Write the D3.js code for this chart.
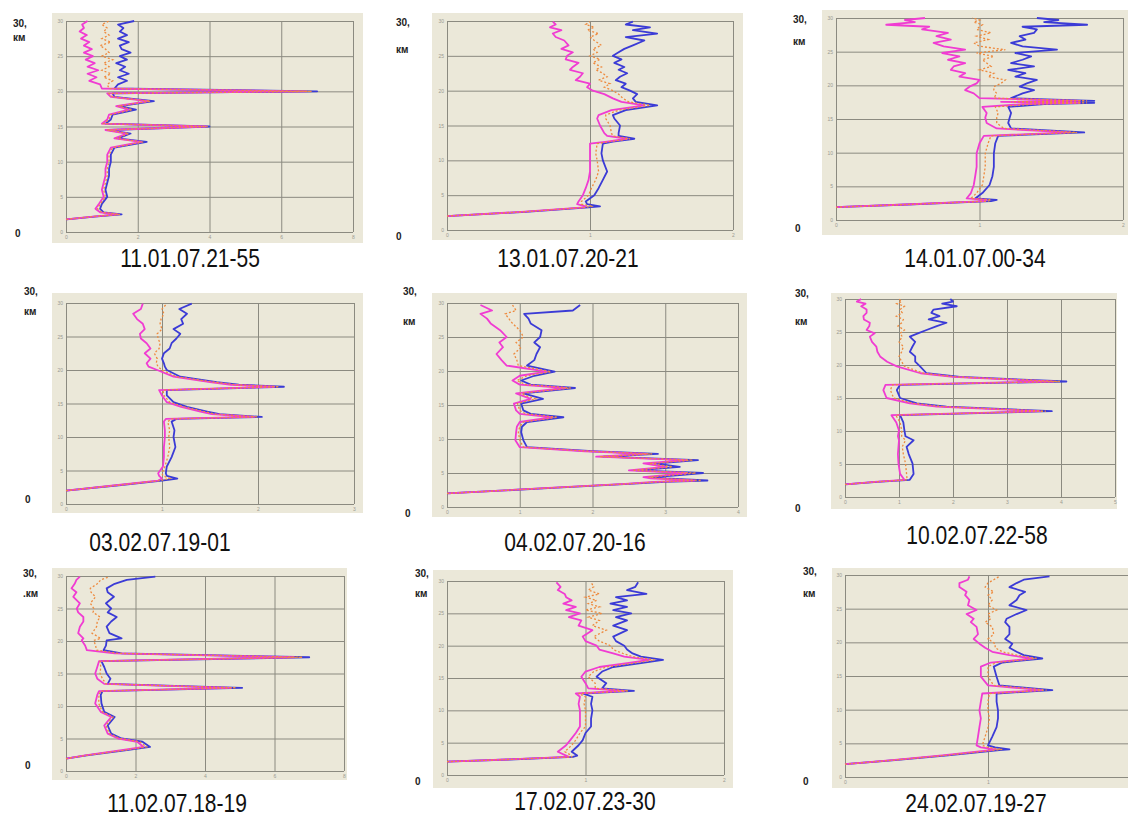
<!DOCTYPE html>
<meta charset="utf-8">
<script src="https://d3js.org/d3.v7.min.js"></script>
<style>
  body { margin: 0; background: #fff; }
  svg { display: block; }
</style>
<div id="chart"></div>
<script>

// panel titles (date.time of each lidar profile)
var titles = ["11.01.07.21-55", "13.01.07.20-21", "14.01.07.00-34",
              "03.02.07.19-01", "04.02.07.20-16", "10.02.07.22-58",
              "11.02.07.18-19", "17.02.07.23-30", "24.02.07.19-27"];
var xMax  = [8, 2, 2, 3, 4, 5, 8, 2, 2];
var xStep = [2, 1, 1, 1, 1, 1, 2, 1, 1];
var altTicks = [0, 5, 10, 15, 20, 25, 30];

// panel 1
var alt1 = [1.8,2.2,2.5,2.8,3.3, 4,5,6,7,8, 9,10,11,12,12.8, 13.3,14,14.5,15,15.4, 16,16.7,17.4,17.9,18.6, 19.2,19.7,20,20.4,21, 21.5,22,22.5,23,23.5, 24,24.5,25,25.5,26, 26.5,27,27.5,28,28.5, 29,29.5,30];
var blue1 = [0.02,0.8,1.55,1.05,0.95, 1.0,1.15,1.1,1.15,1.2, 1.2,1.25,1.25,1.35,2.25, 1.45,1.8,1.2,4.0,1.1, 1.25,1.3,1.95,1.5,2.45, 1.35,1.3,7.0,1.35,1.45, 1.7,1.45,1.75,1.5,1.65, 1.4,1.7,1.5,1.8,1.55, 1.5,1.75,1.45,1.7,1.5, 1.6,1.45,1.9];
var pink1 = [0.0,0.75,1.45,0.95,0.82, 0.92,1.05,1.0,1.05,1.1, 1.1,1.15,1.15,1.25,2.1, 1.35,1.7,1.1,3.9,1.0, 1.15,1.2,1.75,1.4,2.3, 1.25,1.15,6.7,1.0,0.95, 0.65,0.85,0.6,0.9,0.6, 0.8,0.55,0.75,0.5,0.72, 0.5,0.65,0.42,0.58,0.38, 0.5,0.45,0.6];
var orange1 = [0.01,0.78,1.5,1.0,0.88, 0.96,1.1,1.05,1.1,1.15, 1.15,1.2,1.2,1.3,2.15, 1.4,1.75,1.15,3.95,1.05, 1.2,1.25,1.85,1.45,2.35, 1.3,1.2,6.85,1.2,1.15, 1.3,1.05,1.25,1.0,1.2, 1.05,1.3,1.0,1.2,1.1, 0.95,1.25,1.0,1.2,1.05, 1.15,1.0,1.2];

// panel 2
var alt2 = [2.0,2.6,3.25,3.4,3.7, 4.1,5,6,7.2,8.4, 10,11,12.4,12.7,13.1, 13.5,13.9,15,16,16.5, 17.2,17.9,18.4,18.9,19.5, 20,20.5,21,21.5,22, 22.5,23,23.4,24,24.5, 25,25.5,26,26.5,27.2, 27.7,28.2,28.7,29.1,29.5, 29.9];
var blue2 = [0.0,0.55,0.99,1.07,0.98, 0.97,1.03,1.06,1.09,1.12, 1.09,1.08,1.09,1.16,1.31, 1.2,1.2,1.21,1.17,1.16, 1.25,1.47,1.32,1.3,1.33, 1.28,1.22,1.25,1.18,1.21, 1.26,1.2,1.24,1.17,1.22, 1.16,1.2,1.24,1.3,1.38, 1.25,1.47,1.3,1.42,1.25, 1.3];
var pink2 = [0.0,0.52,0.96,0.97,0.91, 0.92,0.95,0.97,0.99,1.0, 1.0,1.0,1.0,1.12,1.26, 1.12,1.1,1.07,1.05,1.06, 1.15,1.38,1.22,1.16,1.1, 1.02,0.98,1.0,0.9,0.93, 0.95,0.86,0.88,0.92,0.83, 0.84,0.88,0.8,0.85,0.82, 0.76,0.74,0.8,0.72,0.76, 0.74];
var orange2 = [0.0,0.53,0.97,1.02,0.94, 0.94,0.99,1.01,1.04,1.06, 1.05,1.04,1.05,1.14,1.28, 1.16,1.15,1.14,1.11,1.11, 1.2,1.42,1.27,1.23,1.2, 1.16,1.1,1.14,1.06,1.12, 1.09,1.04,1.08,1.02,1.07, 1.0,1.05,1.02,1.08,1.03, 1.0,1.06,0.98,1.03,0.97, 1.0];

// panel 3
var alt3 = [1.9,2.3,2.8,3.0,3.2, 4,5.2,6.5,7.9,9.9, 11.4,12.5,13.0,13.6,14.4, 15.2,15.9,16.8,17.2,17.4, 17.55,17.7,18.1,18.8,19.3, 19.8,20.3,20.8,21.3,21.8, 22.3,22.8,23.3,23.8,24.3, 24.8,25.3,25.8,26.3,26.8, 27.3,27.8,28.3,28.7,29.0, 29.4,29.7,30];
var blue3 = [0.0,0.5,1.08,1.12,0.97, 1.02,1.07,1.09,1.1,1.1, 1.11,1.13,1.73,1.22,1.2, 1.21,1.22,1.2,1.45,1.8, 1.3,1.8,1.22,1.3,1.38, 1.28,1.33,1.4,1.25,1.32, 1.2,1.38,1.22,1.3,1.36, 1.25,1.54,1.3,1.22,1.32, 1.28,1.38,1.4,1.3,1.75, 1.45,1.55,1.4];
var pink3 = [0.0,0.48,1.04,1.05,0.91, 0.94,0.96,0.97,0.98,0.98, 1.0,1.03,1.63,1.12,1.05, 1.04,1.05,1.02,1.3,1.7, 1.15,1.7,1.0,0.96,0.9, 0.93,0.98,1.0,0.86,0.9, 0.8,0.82,0.9,0.78,0.86, 0.74,0.9,0.75,0.68,0.8, 0.7,0.78,0.6,0.65,0.35, 0.55,0.48,0.62];
var orange3 = [0.0,0.49,1.06,1.08,0.94, 0.98,1.02,1.03,1.04,1.04, 1.06,1.08,1.68,1.17,1.12, 1.12,1.13,1.11,1.37,1.75, 1.22,1.75,1.1,1.12,1.1, 1.1,1.15,1.18,1.06,1.1, 1.0,1.08,1.05,1.02,1.1, 0.98,1.18,1.0,0.96,1.06, 0.98,1.08,0.98,1.0,1.02, 0.96,1.0,0.95];

// panel 4
var alt4 = [2.0,2.8,3.5,3.8,4.2, 4.6,5.6,7,8.5,10, 11,12.3,12.7,13.0,13.4, 13.8,14.5,15.2,16.2,17.0, 17.5,17.8,18.2,19.0,20, 20.5,21,21.7,22.5,23.2, 24,24.7,25.4,26.1,26.9, 27.6,28.4,29.1,29.9];
var blue4 = [0.0,0.55,1.0,1.16,1.05, 1.04,1.05,1.1,1.14,1.12, 1.13,1.1,1.15,2.04,1.6, 1.47,1.26,1.12,1.05,1.05, 2.27,1.8,1.57,1.19,1.05, 1.03,1.02,1.0,1.02,1.08, 1.1,1.15,1.19,1.12,1.22, 1.2,1.26,1.18,1.31];
var pink4 = [0.0,0.52,0.96,1.0,0.97, 0.96,1.01,1.02,1.02,1.03, 1.03,1.02,1.04,1.96,1.52, 1.4,1.2,1.05,1.0,0.97, 2.17,1.72,1.5,1.12,0.95, 0.86,0.84,0.88,0.82,0.88, 0.84,0.78,0.77,0.82,0.8, 0.74,0.7,0.78,0.8];
var orange4 = [0.0,0.54,0.98,1.08,1.01, 1.0,1.03,1.06,1.08,1.07, 1.08,1.06,1.1,2.0,1.56, 1.44,1.23,1.08,1.02,1.01, 2.22,1.76,1.53,1.15,1.0, 0.96,0.94,0.95,0.92,0.97, 0.98,0.96,0.95,1.0,0.98, 0.99,1.02,1.0,1.05];

// panel 5
var alt5 = [2.0,2.8,3.4,3.7,3.9, 4.2,4.4,4.7,5.0,5.4, 5.9,6.4,6.9,7.4,7.8, 8.2,8.8,9.8,11,11.8, 12.5,13.2,13.7,14.2,15.2, 15.9,16.7,17.5,18.0,18.6, 19.3,19.9,20.8,21.6,22.5, 23.5,24.2,25,26,27, 27.7,28.4,28.9,29.7];
var blue5 = [0.0,1.45,2.5,3.0,3.58, 3.0,2.84,3.2,3.52,2.6, 3.2,2.85,3.45,2.15,2.9, 2.0,1.1,1.05,1.02,1.03, 1.1,1.6,1.15,1.05,1.02, 1.32,1.05,1.76,1.15,1.02, 1.2,1.48,1.1,1.2,1.23, 1.28,1.2,1.28,1.3,1.15, 1.12,1.06,1.73,1.83];
var pink5 = [0.0,1.4,2.45,2.85,3.4, 2.8,2.7,3.0,3.3,2.5, 3.0,2.7,3.3,2.05,2.75, 1.9,1.0,0.94,0.95,0.96, 1.0,1.45,1.0,0.95,0.92, 1.15,0.95,1.63,1.0,0.9, 1.0,1.37,0.82,0.75,0.68, 0.77,0.72,0.82,0.73,0.6, 0.55,0.46,0.62,0.46];
var orange5 = [0.0,1.42,2.48,2.92,3.5, 2.9,2.77,3.1,3.42,2.55, 3.1,2.78,3.38,2.1,2.82, 1.95,1.05,1.0,0.98,1.0, 1.05,1.52,1.08,1.0,0.97, 1.22,1.0,1.7,1.08,0.96, 1.1,1.43,0.98,0.96,0.92, 1.02,0.95,1.05,1.0,0.9, 0.85,0.8,0.95,0.9];

// panel 6
var alt6 = [1.9,2.3,2.6,3.5,5.1, 6.5,7.6,8.6,9.2,10.1, 11.3,12.4,13.0,13.7,14.2, 15.0,16.2,17.0,17.5,18.2, 18.75,19.8,20.5,21.3,22.0, 22.8,23.5,24.3,24.8,25.3, 25.9,26.4,26.9,27.4,27.9, 28.4,28.9,29.3,29.6,30];
var blue6 = [0.0,0.6,1.2,1.27,1.25, 1.18,1.14,1.27,1.12,1.1, 1.08,1.02,3.83,1.88,1.33, 1.02,0.96,1.02,4.1,2.13, 1.51,1.39,1.3,1.3,1.2, 1.25,1.3,1.2,1.35,1.51, 1.7,1.88,1.55,1.75,1.6, 1.64,2.07,1.8,2.0,1.95];
var pink6 = [0.0,0.55,1.1,1.02,0.99, 0.98,0.99,1.0,0.98,1.0, 0.95,0.86,3.61,1.7,1.2, 0.77,0.71,0.75,3.86,2.0, 1.4,0.96,0.78,0.65,0.6, 0.58,0.5,0.46,0.55,0.4, 0.45,0.46,0.35,0.34,0.4, 0.4,0.3,0.38,0.22,0.3];
var orange6 = [0.0,0.58,1.15,1.14,1.12, 1.08,1.06,1.12,1.05,1.05, 1.02,0.94,3.72,1.8,1.26, 0.9,0.84,0.88,3.98,2.06, 1.45,1.1,1.05,1.0,1.05, 1.08,1.0,1.06,1.02,1.1, 0.98,1.05,1.08,0.95,1.06, 1.02,1.1,0.96,1.05,1.0];

// panel 7
var alt7 = [1.9,2.4,3.2,3.7,4.5, 5.0,5.75,7.0,8.3,9.1, 10.4,11.7,12.3,12.8,13.4, 14.2,15.0,16.0,16.9,17.5, 18.1,18.6,19.3,20.1,20.4, 21.2,22.2,23.0,23.7,24.4, 25.0,25.8,26.8,27.5,28.1, 28.8,29.4,29.9];
var blue7 = [0.0,0.6,1.75,2.42,2.2, 1.6,1.3,1.2,1.4,1.1, 1.02,1.0,1.05,5.07,1.2, 1.28,1.17,1.1,1.02,7.0, 1.6,1.08,1.15,1.17,1.6, 1.25,1.17,1.3,1.46,1.2, 1.3,1.15,1.38,1.2,1.17, 1.4,1.75,2.57];
var pink7 = [0.0,0.55,1.6,2.23,2.05, 1.5,1.2,1.1,1.3,1.0, 0.84,0.9,0.95,4.75,1.1, 0.9,0.84,0.9,0.95,6.56, 1.4,0.6,0.55,0.45,0.5, 0.35,0.4,0.5,0.5,0.35, 0.31,0.4,0.21,0.3,0.16, 0.25,0.3,0.4];
var orange7 = [0.0,0.58,1.68,2.32,2.12, 1.55,1.25,1.15,1.35,1.05, 0.94,0.95,1.0,4.9,1.15, 1.05,0.98,1.0,0.98,6.8, 1.5,0.88,0.85,0.8,1.0, 0.75,0.88,0.9,0.98,0.78, 0.8,0.7,0.85,0.72,0.7, 0.9,1.0,1.25];

// panel 8
var alt8 = [2.06,2.4,2.8,3.0,3.6, 4.6,5.4,6.5,7.5,8.7, 10,11,12.1,12.6,13.0, 13.4,14.2,15.2,16.0,16.7, 17.3,17.8,18.3,18.8,19.4, 20,20.7,21.4,22.4,23.1, 23.9,24.4,25,25.5,26, 26.5,27,27.5,28,28.6, 29.1,29.8];
var blue8 = [0.0,0.45,0.91,0.94,0.9, 0.95,0.98,1.0,1.04,1.04, 1.05,1.04,1.05,0.98,1.35, 1.12,1.15,1.08,1.12,1.2, 1.4,1.56,1.4,1.34,1.3, 1.28,1.22,1.2,1.3,1.2, 1.3,1.22,1.33,1.2,1.3, 1.18,1.3,1.22,1.44,1.3, 1.36,1.38];
var pink8 = [0.0,0.43,0.88,0.86,0.8, 0.86,0.89,0.93,0.96,0.96, 0.96,0.95,0.96,0.93,1.28, 1.02,1.0,0.97,1.0,1.1, 1.3,1.46,1.28,1.2,1.1, 1.08,1.0,0.98,1.05,0.95, 0.97,0.88,0.96,0.86,0.93, 0.84,0.9,0.86,0.85,0.8, 0.82,0.79];
var orange8 = [0.0,0.44,0.9,0.9,0.85, 0.9,0.93,0.96,1.0,1.0, 1.0,0.99,1.0,0.95,1.31, 1.07,1.07,1.02,1.06,1.15, 1.35,1.5,1.34,1.27,1.2, 1.18,1.1,1.06,1.15,1.05, 1.1,1.02,1.12,1.0,1.1, 1.02,1.08,1.0,1.1,1.02, 1.06,1.04];

// panel 9
var alt9 = [1.9,2.5,3.2,4.0,4.1, 4.4,4.7,6,7.4,8.7, 9.9,11.2,12.4,12.9,13.6, 14.9,16.4,17.0,17.6,18.1, 18.6,19.2,19.8,20.5,21.2, 22.3,23.0,23.5,24.2,24.8, 25.5,26.3,27.0,27.5,28.2, 28.8,29.3,29.8];
var blue9 = [0.0,0.35,0.72,1.08,1.15, 1.05,1.0,1.03,1.06,1.07, 1.07,1.06,1.06,1.45,1.08, 1.06,1.04,1.1,1.38,1.25, 1.2,1.15,1.17,1.12,1.15, 1.15,1.12,1.13,1.2,1.27, 1.15,1.2,1.22,1.26,1.15, 1.2,1.25,1.43];
var pink9 = [0.0,0.33,0.68,1.02,1.05, 0.95,0.92,0.93,0.94,0.95, 0.94,0.95,0.96,1.38,1.0, 0.95,0.95,1.02,1.31,1.15, 1.03,0.98,0.94,0.9,0.93, 0.92,0.88,0.9,0.85,0.92, 0.86,0.87,0.84,0.85,0.8, 0.8,0.86,0.87];
var orange9 = [0.0,0.34,0.7,1.05,1.1, 1.0,0.96,0.98,1.0,1.01, 1.0,1.0,1.01,1.41,1.04, 1.0,1.0,1.06,1.34,1.2, 1.1,1.05,1.05,1.0,1.04, 1.03,0.98,1.02,1.0,1.06, 1.0,1.03,1.0,1.04,0.98, 1.0,1.04,1.08];

var alts    = [alt1, alt2, alt3, alt4, alt5, alt6, alt7, alt8, alt9];
var blues   = [blue1, blue2, blue3, blue4, blue5, blue6, blue7, blue8, blue9];
var pinks   = [pink1, pink2, pink3, pink4, pink5, pink6, pink7, pink8, pink9];
var oranges = [orange1, orange2, orange3, orange4, orange5, orange6, orange7, orange8, orange9];

// where each little chart sits on the page
// bg = beige box, plot = grid area, title = [centre x, baseline], lab = [x, "30," y, "км" y, "0" x, "0" y]
var layout = [
  {bg: [52, 13, 363, 243],  plot: [66, 21, 353, 232],   title: [190, 267], lab: [13, 27, 41, 15, 237], km: "км"},
  {bg: [432, 13, 743, 240], plot: [447, 21, 733, 230],  title: [568, 267], lab: [396, 26, 53, 396, 240], km: "км"},
  {bg: [822, 10, 1128, 235], plot: [836, 18, 1123, 220], title: [975, 267], lab: [793, 23, 45, 795, 232], km: "км"},
  {bg: [52, 293, 363, 513], plot: [66, 303, 354, 504],  title: [160, 551], lab: [24, 295, 315, 25, 503], km: "км"},
  {bg: [432, 293, 747, 517], plot: [447, 303, 738, 507], title: [575, 551], lab: [403, 295, 325, 405, 517], km: "км"},
  {bg: [831, 293, 1117, 509], plot: [845, 299, 1115, 497], title: [977, 544], lab: [795, 297, 325, 795, 512], km: "км"},
  {bg: [52, 568, 347, 780], plot: [66, 576, 344, 771],  title: [177, 812], lab: [23, 577, 597, 25, 769], km: ".км"},
  {bg: [433, 570, 733, 788], plot: [447, 581, 724, 775], title: [585, 810], lab: [415, 577, 597, 415, 785], km: "км"},
  {bg: [832, 568, 1128, 788], plot: [845, 575, 1131, 777], title: [976, 812], lab: [803, 575, 597, 803, 785], km: "км"}
];

var W = 1128, H = 819;
var svg = d3.select("#chart").append("svg")
  .attr("width", W)
  .attr("height", H)
  .style("font-family", "'Liberation Sans', Arial, sans-serif");

svg.append("rect").attr("width", W).attr("height", H).attr("fill", "#ffffff");

var colBlue = "#3b3bd6", colPink = "#f03cd2", colOrange = "#ee8a3e", colGrid = "#8b8a80";

layout.forEach(function(L, i) {
  var g = svg.append("g");
  var pl = L.plot[0], pt = L.plot[1], pr = L.plot[2], pb = L.plot[3];

  g.append("rect")
    .attr("x", L.bg[0]).attr("y", L.bg[1])
    .attr("width", L.bg[2] - L.bg[0]).attr("height", L.bg[3] - L.bg[1])
    .attr("fill", "#ebe8d9");

  var x = d3.scaleLinear().domain([0, xMax[i]]).range([pl, pr]);
  var y = d3.scaleLinear().domain([0, 30]).range([pb, pt]);
  var xt = d3.range(0, xMax[i] + 1e-9, xStep[i]);

  // vertical grid
  g.append("g")
    .attr("transform", "translate(0," + pb + ")")
    .call(d3.axisBottom(x).tickValues(xt).tickSize(-(pb - pt)).tickPadding(3).tickFormat(d3.format("d")))
    .call(function(a) {
      a.select(".domain").remove();
      a.selectAll("line").attr("stroke", colGrid).attr("stroke-width", 1);
      a.selectAll("text").attr("font-size", 5).attr("fill", "#9a9a92").attr("font-family", null);
      // labels that would fall past the right edge of the page are not drawn
      a.selectAll(".tick").filter(function(d) { return x(d) > W - 4; }).select("text").remove();
    });

  // horizontal grid
  g.append("g")
    .attr("transform", "translate(" + pl + ",0)")
    .call(d3.axisLeft(y).tickValues(altTicks).tickSize(-(pr - pl)).tickPadding(3))
    .call(function(a) {
      a.select(".domain").remove();
      a.selectAll("line").attr("stroke", colGrid).attr("stroke-width", 1);
      a.selectAll("text").attr("font-size", 5).attr("fill", "#9a9a92").attr("font-family", null);
    });

  var line = d3.line()
    .x(function(d) { return x(d[0]); })
    .y(function(d) { return y(d[1]); });

  function pts(vals) { return vals.map(function(v, k) { return [v, alts[i][k]]; }); }

  g.append("path").datum(pts(blues[i]))
    .attr("d", line).attr("fill", "none")
    .attr("stroke", colBlue).attr("stroke-width", 1.8).attr("stroke-linejoin", "round");
  g.append("path").datum(pts(pinks[i]))
    .attr("d", line).attr("fill", "none")
    .attr("stroke", colPink).attr("stroke-width", 1.8).attr("stroke-linejoin", "round");
  g.append("path").datum(pts(oranges[i]))
    .attr("d", line).attr("fill", "none")
    .attr("stroke", colOrange).attr("stroke-width", 1.3)
    .attr("stroke-dasharray", "2,2");

  // altitude labels
  g.append("text").attr("x", L.lab[0]).attr("y", L.lab[1])
    .attr("font-size", 10).attr("font-weight", "bold").attr("fill", "#222").text("30,");
  g.append("text").attr("x", L.lab[0]).attr("y", L.lab[2])
    .attr("font-size", 10).attr("font-weight", "bold").attr("fill", "#222").text(L.km);
  g.append("text").attr("x", L.lab[3]).attr("y", L.lab[4])
    .attr("font-size", 10).attr("font-weight", "bold").attr("fill", "#222").text("0");

  // title under the chart
  g.append("text")
    .attr("transform", "translate(" + L.title[0] + "," + L.title[1] + ") scale(1,1.25)")
    .attr("text-anchor", "middle")
    .attr("font-size", 21)
    .attr("fill", "#111")
    .text(titles[i]);
});

</script>
